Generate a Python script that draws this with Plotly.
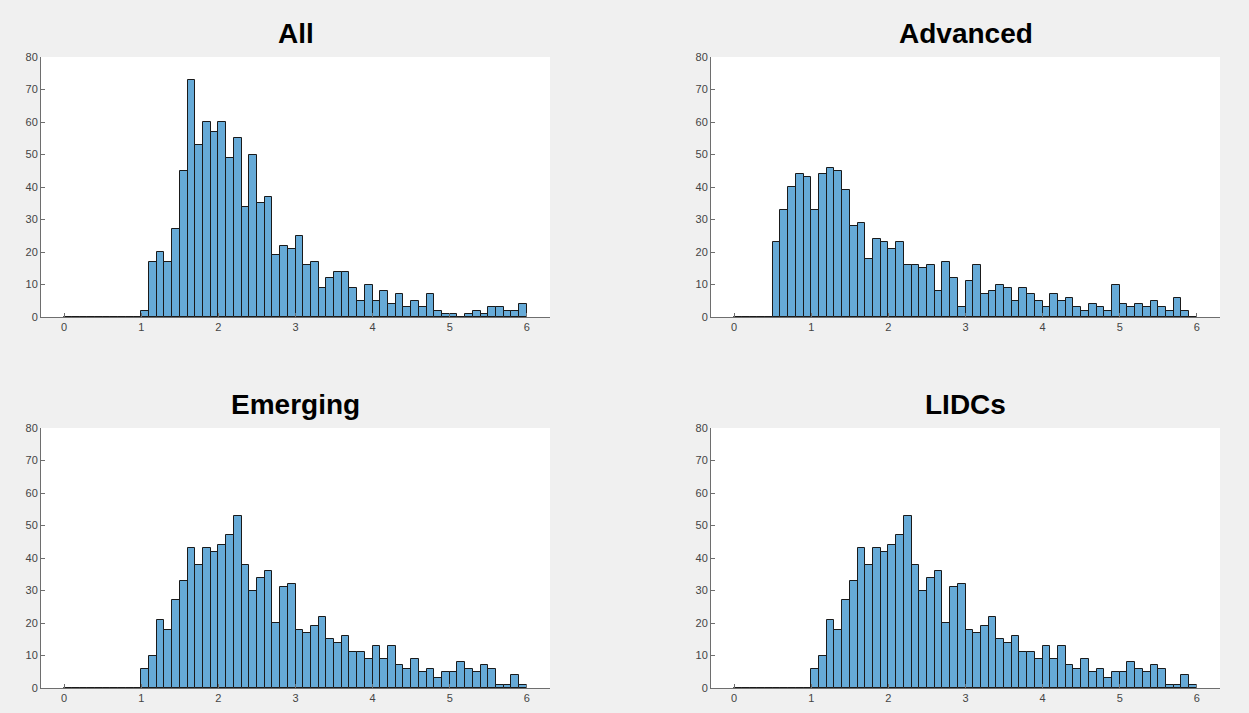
import plotly.graph_objects as go

# ---------------- data (histogram counts, bins of width 0.1 from 0 to 6) ----------------
BIN_START = 0.0
BIN_WIDTH = 0.1

titles = ["All", "Advanced", "Emerging", "LIDCs"]

counts_all = [0, 0, 0, 0, 0, 0, 0, 0, 0, 0,
              2, 17, 20, 17, 27, 45, 73, 53, 60, 57,
              60, 49, 55, 34, 50, 35, 37, 19, 22, 21,
              25, 16, 17, 9, 12, 14, 14, 9, 5, 10,
              5, 8, 4, 7, 3, 5, 3, 7, 2, 1,
              1, 0, 1, 2, 1, 3, 3, 2, 2, 4]

counts_advanced = [0, 0, 0, 0, 0, 23, 33, 40, 44, 43,
                   33, 44, 46, 45, 39, 28, 29, 18, 24, 23,
                   21, 23, 16, 16, 15, 16, 8, 17, 12, 3,
                   11, 16, 7, 8, 10, 9, 5, 9, 7, 5,
                   3, 7, 5, 6, 3, 2, 4, 3, 2, 10,
                   4, 3, 4, 3, 5, 3, 2, 6, 2, 0]

counts_emerging = [0, 0, 0, 0, 0, 0, 0, 0, 0, 0,
                   6, 10, 21, 18, 27, 33, 43, 38, 43, 42,
                   44, 47, 53, 38, 30, 34, 36, 20, 31, 32,
                   18, 17, 19, 22, 15, 14, 16, 11, 11, 9,
                   13, 9, 13, 7, 6, 9, 5, 6, 3, 5,
                   5, 8, 6, 5, 7, 6, 1, 1, 4, 1]

counts_lidcs = [0, 0, 0, 0, 0, 0, 0, 0, 0, 0,
                6, 10, 21, 18, 27, 33, 43, 38, 43, 42,
                44, 47, 53, 38, 30, 34, 36, 20, 31, 32,
                18, 17, 19, 22, 15, 14, 16, 11, 11, 9,
                13, 9, 13, 7, 6, 9, 5, 6, 3, 5,
                5, 8, 6, 5, 7, 6, 1, 1, 4, 1]

x_ticks = [0, 1, 2, 3, 4, 5, 6]
y_ticks = [0, 10, 20, 30, 40, 50, 60, 70, 80]

# ---------------- layout geometry ----------------
W, H = 1249, 713
cols = [(41, 550), (711, 1220)]
rows = [(57, 317), (428, 688)]

BAR_FILL = "rgb(102,170,215)"
BAR_EDGE = "#1a1a1a"
AXIS_COLOR = "#6e6e6e"
TEXT_COLOR = "#444444"
FONT = "Liberation Sans, Arial, Helvetica, sans-serif"

fig = go.Figure()
all_counts = [counts_all, counts_advanced, counts_emerging, counts_lidcs]

annotations = []
for i, (title, counts) in enumerate(zip(titles, all_counts)):
    r, c = divmod(i, 2)
    idx = "" if i == 0 else str(i + 1)
    centers = [BIN_START + BIN_WIDTH * (k + 0.5) for k in range(len(counts))]
    fig.add_trace(go.Bar(
        x=centers, y=counts, width=BIN_WIDTH,
        marker=dict(color=BAR_FILL, line=dict(color=BAR_EDGE, width=1)),
        xaxis="x" + idx, yaxis="y" + idx, showlegend=False,
        hoverinfo="x+y",
    ))
    x0, x1 = cols[c]
    y0, y1 = rows[r]
    xd = [x0 / W, x1 / W]
    yd = [1 - y1 / H, 1 - y0 / H]
    fig.layout["xaxis" + idx] = dict(
        domain=xd, anchor="y" + idx, range=[-0.3, 6.3],
        tickvals=x_ticks, ticktext=[str(t) for t in x_ticks],
        ticks="inside", ticklen=4, tickcolor=AXIS_COLOR, tickwidth=1,
        showline=True, linecolor=AXIS_COLOR, linewidth=1, mirror=False,
        showgrid=False, zeroline=False, automargin=False,
        tickfont=dict(family=FONT, size=11, color=TEXT_COLOR),
        fixedrange=True,
    )
    fig.layout["yaxis" + idx] = dict(
        domain=yd, anchor="x" + idx, range=[0, 80],
        tickvals=y_ticks, ticktext=[str(t) for t in y_ticks],
        ticks="inside", ticklen=4, tickcolor=AXIS_COLOR, tickwidth=1,
        showline=True, linecolor=AXIS_COLOR, linewidth=1, mirror=False,
        showgrid=False, zeroline=False, automargin=False,
        tickfont=dict(family=FONT, size=11, color=TEXT_COLOR),
        fixedrange=True,
    )
    annotations.append(dict(
        text="<b>%s</b>" % title, xref="paper", yref="paper",
        x=(x0 + x1) / 2 / W, y=1 - (y0 - 24) / H,
        xanchor="center", yanchor="middle", showarrow=False,
        font=dict(family=FONT, size=28, color="#000000"),
    ))

fig.update_layout(
    width=W, height=H, autosize=False,
    margin=dict(l=0, r=0, t=0, b=0, pad=0, autoexpand=False),
    paper_bgcolor="#f0f0f0", plot_bgcolor="#ffffff",
    bargap=0, barmode="overlay",
    annotations=annotations,
    font=dict(family=FONT),
)

POST = (
    "var gd=document.getElementById('{plot_id}');"
    "gd.style.position='fixed';gd.style.top='0px';gd.style.left='0px';"
    "document.documentElement.style.overflow='hidden';"
    "document.body.style.margin='0';document.body.style.overflow='hidden';"
    "document.body.style.background='#f0f0f0';"
)

fig.write_html("out.html", config={"displayModeBar": False}, post_script=POST)
